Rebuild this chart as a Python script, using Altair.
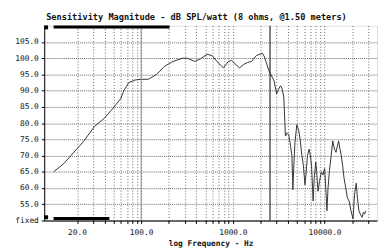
import altair as alt
import pandas as pd

# ---- data ----
freq_hz = [11.1, 14.3, 19.8, 23.3, 31, 39.7, 50.7, 59.7, 64.8, 73.4, 86.3, 101.7, 119.8,
           147, 180, 222, 283, 320, 384, 444, 524, 593, 670, 788, 891, 968, 1080, 1180,
           1300, 1450, 1600, 1800, 2100, 2200, 2290, 2485, 2700, 2810, 3000, 3150, 3310,
           3450, 3590, 3740, 3900, 4060, 4250, 4400, 4510, 4600, 4750, 4980, 5200, 5410,
           5650, 5870, 6110, 6300, 6500, 6790, 7000, 7200, 7500, 7700, 8010, 8200, 8470,
           8800, 9200, 9600, 10000, 10300, 10600, 10900, 11300, 11800, 12270, 12800,
           13310, 13800, 14220, 14700, 15200, 15700, 16300, 17020, 17700, 18490, 19400,
           20400, 21200, 22140, 22800, 23650, 24500, 25680, 26500, 27350, 28000]
spl_db = [65, 67.5, 72, 74.2, 79, 81.5, 85, 87.5, 90, 92.5, 93.3, 93.5, 93.5,
          95, 97.5, 99, 100, 100, 99, 99.8, 101.2, 100.8, 99, 97, 99, 99.3, 98, 97,
          98, 98.7, 99, 100.8, 101.5, 100.5, 99, 96, 94, 93, 89, 90.5, 91.5,
          90.5, 88, 76, 77, 76.5, 73, 70, 59.5, 66, 74, 79.5, 78, 75,
          70, 67, 61, 65, 70, 72, 70, 67, 56, 63, 68, 65, 59,
          62, 65, 64, 66, 60, 53, 60, 65.5, 70, 74.5, 72,
          71, 73, 74.5, 72, 70, 67, 63, 60, 57, 56, 53,
          50.5, 58, 61.5, 57, 53, 52, 51, 52.5, 52, 53]

grid_freqs = [20, 30, 40, 50, 60, 70, 80, 90,
              100, 200, 300, 400, 500, 600, 700, 800, 900,
              1000, 2000, 3000, 4000, 5000, 6000, 7000, 8000, 9000,
              10000, 20000, 30000]
label_freqs = [20, 100, 1000, 10000]
y_ticks = [50, 55, 60, 65, 70, 75, 80, 85, 90, 95, 100, 105]

marker_freqs = [100, 2540]
marker_colors = ["#8a8a8a", "#000000"]

bar_start = [11.1, 11.1]
bar_end = [204, 45]
bar_level = [109.6, 50.6]

square_freq = [9.2, 9.2]
square_level = [109.5, 51.0]

title_text = "Sensitivity Magnitude - dB SPL/watt (8 ohms, @1.50 meters)"
x_title = "log Frequency - Hz"

# ---- chart ----
curve_df = pd.DataFrame({"f": freq_hz, "db": spl_db})
marker_df = pd.DataFrame({"f": marker_freqs, "c": marker_colors})
bar_df = pd.DataFrame({"f": bar_start, "f2": bar_end, "db": bar_level})
sq_df = pd.DataFrame({"f": square_freq, "db": square_level})

font = "DejaVu Sans Mono"
cond = " || ".join(f"datum.value == {v}" for v in label_freqs)

xscale = alt.Scale(type="log", domain=[8.77, 37300], nice=False)
yscale = alt.Scale(domain=[50, 110], nice=False, zero=False)

xaxis = alt.Axis(values=grid_freqs, grid=True, gridDash=[1, 2], gridColor="#666",
                 gridOpacity=1, labelExpr=f"({cond}) ? format(datum.value, '.1f') : ''",
                 labelFont=font, labelFontSize=8, labelColor="#111", labelPadding=5,
                 tickSize=3, tickColor="#000", domainColor="#000",
                 title=x_title, titleFont=font, titleFontSize=8, titleFontWeight="bold",
                 titleColor="#111", titlePadding=4, labelFlush=False, labelOverlap=False)
yaxis = alt.Axis(values=y_ticks, grid=True, gridDash=[1, 1], gridColor="#666",
                 gridOpacity=1, labelOverlap=False, tickCount=12,
                 labelExpr="datum.value == 50 ? 'fixed' : format(datum.value, '.1f')",
                 labelFont=font, labelFontSize=8, labelColor="#111", labelPadding=3,
                 tickSize=3, tickColor="#000", domainColor="#000", title=None)

base_x = alt.X("f:Q", scale=xscale, axis=xaxis)
base_y = alt.Y("db:Q", scale=yscale, axis=yaxis)

curve = alt.Chart(curve_df).mark_line(color="#333", strokeWidth=1, clip=True).encode(
    x=base_x, y=base_y)

markers = alt.Chart(marker_df).mark_rule(strokeWidth=1).encode(
    x=base_x, color=alt.Color("c:N", scale=None))

bars = alt.Chart(bar_df).mark_rule(strokeWidth=3, color="#000").encode(
    x=base_x, x2="f2:Q", y=base_y)

squares = alt.Chart(sq_df).mark_square(size=16, color="#000", opacity=1).encode(
    x=base_x, y=base_y)

chart = alt.layer(curve, markers, bars, squares).properties(
    width=340, height=199,
    title=alt.TitleParams(title_text, font=font, fontSize=8.8, fontWeight="bold",
                          color="#111", anchor="start", frame="group", dx=2, offset=4),
    autosize=alt.AutoSizeParams(type="none"),
    padding={"left": 37, "top": 15.5, "right": 2, "bottom": 26},
).configure_view(stroke="#555", strokeWidth=1).configure(background="white")

chart.save("out.html", embed_options={"renderer": "svg", "actions": False})
